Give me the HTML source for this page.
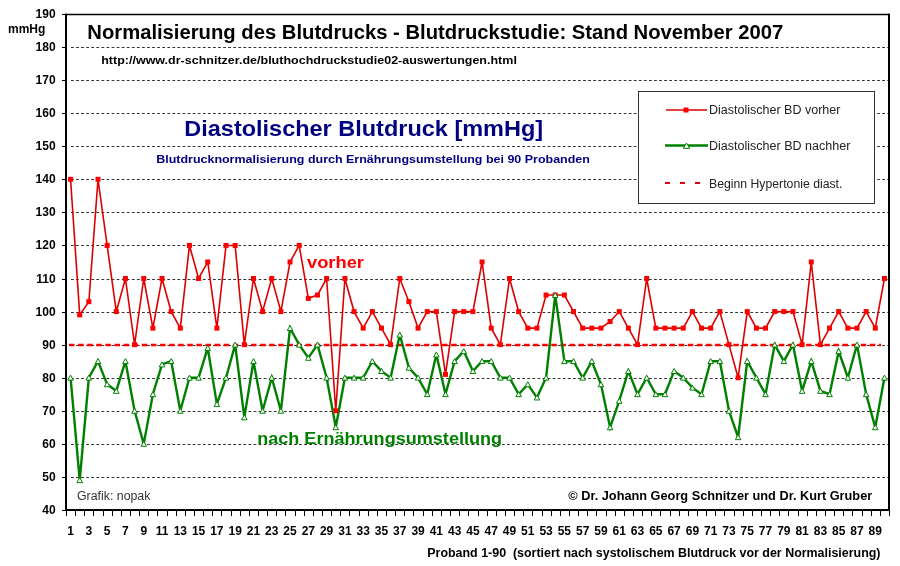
<!DOCTYPE html>
<html><head><meta charset="utf-8"><style>
html,body{margin:0;padding:0;background:#fff;}
body{width:900px;height:566px;overflow:hidden;position:relative;}
svg text{font-family:"Liberation Sans", sans-serif;}
svg{will-change:transform;}
</style></head><body>
<svg width="900" height="566" viewBox="0 0 900 566" style="position:absolute;left:0;top:0">
<line x1="71" y1="477.5" x2="888" y2="477.5" stroke="#333" stroke-width="1" stroke-dasharray="2.8 2.27"/>
<line x1="71" y1="444.5" x2="888" y2="444.5" stroke="#333" stroke-width="1" stroke-dasharray="2.8 2.27"/>
<line x1="71" y1="411.5" x2="888" y2="411.5" stroke="#333" stroke-width="1" stroke-dasharray="2.8 2.27"/>
<line x1="71" y1="378.5" x2="888" y2="378.5" stroke="#333" stroke-width="1" stroke-dasharray="2.8 2.27"/>
<line x1="71" y1="345.5" x2="888" y2="345.5" stroke="#333" stroke-width="1" stroke-dasharray="2.8 2.27"/>
<line x1="71" y1="312.5" x2="888" y2="312.5" stroke="#333" stroke-width="1" stroke-dasharray="2.8 2.27"/>
<line x1="71" y1="279.5" x2="888" y2="279.5" stroke="#333" stroke-width="1" stroke-dasharray="2.8 2.27"/>
<line x1="71" y1="245.5" x2="888" y2="245.5" stroke="#333" stroke-width="1" stroke-dasharray="2.8 2.27"/>
<line x1="71" y1="212.5" x2="888" y2="212.5" stroke="#333" stroke-width="1" stroke-dasharray="2.8 2.27"/>
<line x1="71" y1="179.5" x2="888" y2="179.5" stroke="#333" stroke-width="1" stroke-dasharray="2.8 2.27"/>
<line x1="71" y1="146.5" x2="888" y2="146.5" stroke="#333" stroke-width="1" stroke-dasharray="2.8 2.27"/>
<line x1="71" y1="113.5" x2="888" y2="113.5" stroke="#333" stroke-width="1" stroke-dasharray="2.8 2.27"/>
<line x1="71" y1="80.5" x2="888" y2="80.5" stroke="#333" stroke-width="1" stroke-dasharray="2.8 2.27"/>
<line x1="71" y1="47.5" x2="888" y2="47.5" stroke="#333" stroke-width="1" stroke-dasharray="2.8 2.27"/>
<line x1="69" y1="345.1" x2="881" y2="345.1" stroke="#f00" stroke-width="2.5" stroke-dasharray="5.5 3.6"/>
<line x1="65" y1="14.5" x2="890" y2="14.5" stroke="#000" stroke-width="1.6"/>
<line x1="65" y1="510" x2="890" y2="510" stroke="#000" stroke-width="2"/>
<line x1="66" y1="13.7" x2="66" y2="511" stroke="#000" stroke-width="2"/>
<line x1="889" y1="13.7" x2="889" y2="511" stroke="#000" stroke-width="2"/>
<line x1="62" y1="510.5" x2="66" y2="510.5" stroke="#000" stroke-width="1"/>
<line x1="62" y1="477.5" x2="66" y2="477.5" stroke="#000" stroke-width="1"/>
<line x1="62" y1="444.5" x2="66" y2="444.5" stroke="#000" stroke-width="1"/>
<line x1="62" y1="411.5" x2="66" y2="411.5" stroke="#000" stroke-width="1"/>
<line x1="62" y1="378.5" x2="66" y2="378.5" stroke="#000" stroke-width="1"/>
<line x1="62" y1="345.5" x2="66" y2="345.5" stroke="#000" stroke-width="1"/>
<line x1="62" y1="312.5" x2="66" y2="312.5" stroke="#000" stroke-width="1"/>
<line x1="62" y1="279.5" x2="66" y2="279.5" stroke="#000" stroke-width="1"/>
<line x1="62" y1="245.5" x2="66" y2="245.5" stroke="#000" stroke-width="1"/>
<line x1="62" y1="212.5" x2="66" y2="212.5" stroke="#000" stroke-width="1"/>
<line x1="62" y1="179.5" x2="66" y2="179.5" stroke="#000" stroke-width="1"/>
<line x1="62" y1="146.5" x2="66" y2="146.5" stroke="#000" stroke-width="1"/>
<line x1="62" y1="113.5" x2="66" y2="113.5" stroke="#000" stroke-width="1"/>
<line x1="62" y1="80.5" x2="66" y2="80.5" stroke="#000" stroke-width="1"/>
<line x1="62" y1="47.5" x2="66" y2="47.5" stroke="#000" stroke-width="1"/>
<line x1="62" y1="14.5" x2="66" y2="14.5" stroke="#000" stroke-width="1"/>
<line x1="66.5" y1="511" x2="66.5" y2="516" stroke="#000" stroke-width="1"/>
<line x1="75.5" y1="511" x2="75.5" y2="516" stroke="#000" stroke-width="1"/>
<line x1="84.5" y1="511" x2="84.5" y2="516" stroke="#000" stroke-width="1"/>
<line x1="93.5" y1="511" x2="93.5" y2="516" stroke="#000" stroke-width="1"/>
<line x1="103.5" y1="511" x2="103.5" y2="516" stroke="#000" stroke-width="1"/>
<line x1="112.5" y1="511" x2="112.5" y2="516" stroke="#000" stroke-width="1"/>
<line x1="121.5" y1="511" x2="121.5" y2="516" stroke="#000" stroke-width="1"/>
<line x1="130.5" y1="511" x2="130.5" y2="516" stroke="#000" stroke-width="1"/>
<line x1="139.5" y1="511" x2="139.5" y2="516" stroke="#000" stroke-width="1"/>
<line x1="148.5" y1="511" x2="148.5" y2="516" stroke="#000" stroke-width="1"/>
<line x1="157.5" y1="511" x2="157.5" y2="516" stroke="#000" stroke-width="1"/>
<line x1="167.5" y1="511" x2="167.5" y2="516" stroke="#000" stroke-width="1"/>
<line x1="176.5" y1="511" x2="176.5" y2="516" stroke="#000" stroke-width="1"/>
<line x1="185.5" y1="511" x2="185.5" y2="516" stroke="#000" stroke-width="1"/>
<line x1="194.5" y1="511" x2="194.5" y2="516" stroke="#000" stroke-width="1"/>
<line x1="203.5" y1="511" x2="203.5" y2="516" stroke="#000" stroke-width="1"/>
<line x1="212.5" y1="511" x2="212.5" y2="516" stroke="#000" stroke-width="1"/>
<line x1="221.5" y1="511" x2="221.5" y2="516" stroke="#000" stroke-width="1"/>
<line x1="231.5" y1="511" x2="231.5" y2="516" stroke="#000" stroke-width="1"/>
<line x1="240.5" y1="511" x2="240.5" y2="516" stroke="#000" stroke-width="1"/>
<line x1="249.5" y1="511" x2="249.5" y2="516" stroke="#000" stroke-width="1"/>
<line x1="258.5" y1="511" x2="258.5" y2="516" stroke="#000" stroke-width="1"/>
<line x1="267.5" y1="511" x2="267.5" y2="516" stroke="#000" stroke-width="1"/>
<line x1="276.5" y1="511" x2="276.5" y2="516" stroke="#000" stroke-width="1"/>
<line x1="285.5" y1="511" x2="285.5" y2="516" stroke="#000" stroke-width="1"/>
<line x1="295.5" y1="511" x2="295.5" y2="516" stroke="#000" stroke-width="1"/>
<line x1="304.5" y1="511" x2="304.5" y2="516" stroke="#000" stroke-width="1"/>
<line x1="313.5" y1="511" x2="313.5" y2="516" stroke="#000" stroke-width="1"/>
<line x1="322.5" y1="511" x2="322.5" y2="516" stroke="#000" stroke-width="1"/>
<line x1="331.5" y1="511" x2="331.5" y2="516" stroke="#000" stroke-width="1"/>
<line x1="340.5" y1="511" x2="340.5" y2="516" stroke="#000" stroke-width="1"/>
<line x1="349.5" y1="511" x2="349.5" y2="516" stroke="#000" stroke-width="1"/>
<line x1="359.5" y1="511" x2="359.5" y2="516" stroke="#000" stroke-width="1"/>
<line x1="368.5" y1="511" x2="368.5" y2="516" stroke="#000" stroke-width="1"/>
<line x1="377.5" y1="511" x2="377.5" y2="516" stroke="#000" stroke-width="1"/>
<line x1="386.5" y1="511" x2="386.5" y2="516" stroke="#000" stroke-width="1"/>
<line x1="395.5" y1="511" x2="395.5" y2="516" stroke="#000" stroke-width="1"/>
<line x1="404.5" y1="511" x2="404.5" y2="516" stroke="#000" stroke-width="1"/>
<line x1="413.5" y1="511" x2="413.5" y2="516" stroke="#000" stroke-width="1"/>
<line x1="423.5" y1="511" x2="423.5" y2="516" stroke="#000" stroke-width="1"/>
<line x1="432.5" y1="511" x2="432.5" y2="516" stroke="#000" stroke-width="1"/>
<line x1="441.5" y1="511" x2="441.5" y2="516" stroke="#000" stroke-width="1"/>
<line x1="450.5" y1="511" x2="450.5" y2="516" stroke="#000" stroke-width="1"/>
<line x1="459.5" y1="511" x2="459.5" y2="516" stroke="#000" stroke-width="1"/>
<line x1="468.5" y1="511" x2="468.5" y2="516" stroke="#000" stroke-width="1"/>
<line x1="478.5" y1="511" x2="478.5" y2="516" stroke="#000" stroke-width="1"/>
<line x1="487.5" y1="511" x2="487.5" y2="516" stroke="#000" stroke-width="1"/>
<line x1="496.5" y1="511" x2="496.5" y2="516" stroke="#000" stroke-width="1"/>
<line x1="505.5" y1="511" x2="505.5" y2="516" stroke="#000" stroke-width="1"/>
<line x1="514.5" y1="511" x2="514.5" y2="516" stroke="#000" stroke-width="1"/>
<line x1="523.5" y1="511" x2="523.5" y2="516" stroke="#000" stroke-width="1"/>
<line x1="532.5" y1="511" x2="532.5" y2="516" stroke="#000" stroke-width="1"/>
<line x1="542.5" y1="511" x2="542.5" y2="516" stroke="#000" stroke-width="1"/>
<line x1="551.5" y1="511" x2="551.5" y2="516" stroke="#000" stroke-width="1"/>
<line x1="560.5" y1="511" x2="560.5" y2="516" stroke="#000" stroke-width="1"/>
<line x1="569.5" y1="511" x2="569.5" y2="516" stroke="#000" stroke-width="1"/>
<line x1="578.5" y1="511" x2="578.5" y2="516" stroke="#000" stroke-width="1"/>
<line x1="587.5" y1="511" x2="587.5" y2="516" stroke="#000" stroke-width="1"/>
<line x1="596.5" y1="511" x2="596.5" y2="516" stroke="#000" stroke-width="1"/>
<line x1="606.5" y1="511" x2="606.5" y2="516" stroke="#000" stroke-width="1"/>
<line x1="615.5" y1="511" x2="615.5" y2="516" stroke="#000" stroke-width="1"/>
<line x1="624.5" y1="511" x2="624.5" y2="516" stroke="#000" stroke-width="1"/>
<line x1="633.5" y1="511" x2="633.5" y2="516" stroke="#000" stroke-width="1"/>
<line x1="642.5" y1="511" x2="642.5" y2="516" stroke="#000" stroke-width="1"/>
<line x1="651.5" y1="511" x2="651.5" y2="516" stroke="#000" stroke-width="1"/>
<line x1="660.5" y1="511" x2="660.5" y2="516" stroke="#000" stroke-width="1"/>
<line x1="670.5" y1="511" x2="670.5" y2="516" stroke="#000" stroke-width="1"/>
<line x1="679.5" y1="511" x2="679.5" y2="516" stroke="#000" stroke-width="1"/>
<line x1="688.5" y1="511" x2="688.5" y2="516" stroke="#000" stroke-width="1"/>
<line x1="697.5" y1="511" x2="697.5" y2="516" stroke="#000" stroke-width="1"/>
<line x1="706.5" y1="511" x2="706.5" y2="516" stroke="#000" stroke-width="1"/>
<line x1="715.5" y1="511" x2="715.5" y2="516" stroke="#000" stroke-width="1"/>
<line x1="724.5" y1="511" x2="724.5" y2="516" stroke="#000" stroke-width="1"/>
<line x1="734.5" y1="511" x2="734.5" y2="516" stroke="#000" stroke-width="1"/>
<line x1="743.5" y1="511" x2="743.5" y2="516" stroke="#000" stroke-width="1"/>
<line x1="752.5" y1="511" x2="752.5" y2="516" stroke="#000" stroke-width="1"/>
<line x1="761.5" y1="511" x2="761.5" y2="516" stroke="#000" stroke-width="1"/>
<line x1="770.5" y1="511" x2="770.5" y2="516" stroke="#000" stroke-width="1"/>
<line x1="779.5" y1="511" x2="779.5" y2="516" stroke="#000" stroke-width="1"/>
<line x1="788.5" y1="511" x2="788.5" y2="516" stroke="#000" stroke-width="1"/>
<line x1="798.5" y1="511" x2="798.5" y2="516" stroke="#000" stroke-width="1"/>
<line x1="807.5" y1="511" x2="807.5" y2="516" stroke="#000" stroke-width="1"/>
<line x1="816.5" y1="511" x2="816.5" y2="516" stroke="#000" stroke-width="1"/>
<line x1="825.5" y1="511" x2="825.5" y2="516" stroke="#000" stroke-width="1"/>
<line x1="834.5" y1="511" x2="834.5" y2="516" stroke="#000" stroke-width="1"/>
<line x1="843.5" y1="511" x2="843.5" y2="516" stroke="#000" stroke-width="1"/>
<line x1="852.5" y1="511" x2="852.5" y2="516" stroke="#000" stroke-width="1"/>
<line x1="862.5" y1="511" x2="862.5" y2="516" stroke="#000" stroke-width="1"/>
<line x1="871.5" y1="511" x2="871.5" y2="516" stroke="#000" stroke-width="1"/>
<line x1="880.5" y1="511" x2="880.5" y2="516" stroke="#000" stroke-width="1"/>
<line x1="889.5" y1="511" x2="889.5" y2="516" stroke="#000" stroke-width="1"/>
<polyline points="70.57,179.30 79.72,314.89 88.86,301.66 98.01,179.30 107.15,245.44 116.29,311.58 125.44,278.51 134.58,344.65 143.73,278.51 152.87,328.12 162.02,278.51 171.16,311.58 180.31,328.12 189.45,245.44 198.59,278.51 207.74,261.98 216.88,328.12 226.03,245.44 235.17,245.44 244.32,344.65 253.46,278.51 262.61,311.58 271.75,278.51 280.89,311.58 290.04,261.98 299.18,245.44 308.33,298.35 317.47,295.05 326.62,278.51 335.76,410.79 344.91,278.51 354.05,311.58 363.19,328.12 372.34,311.58 381.48,328.12 390.63,344.65 399.77,278.51 408.92,301.66 418.06,328.12 427.21,311.58 436.35,311.58 445.49,374.41 454.64,311.58 463.78,311.58 472.93,311.58 482.07,261.98 491.22,328.12 500.36,344.65 509.51,278.51 518.65,311.58 527.79,328.12 536.94,328.12 546.08,295.05 555.23,295.05 564.37,295.05 573.52,311.58 582.66,328.12 591.81,328.12 600.95,328.12 610.09,321.50 619.24,311.58 628.38,328.12 637.53,344.65 646.67,278.51 655.82,328.12 664.96,328.12 674.11,328.12 683.25,328.12 692.39,311.58 701.54,328.12 710.68,328.12 719.83,311.58 728.97,344.65 738.12,377.72 747.26,311.58 756.41,328.12 765.55,328.12 774.69,311.58 783.84,311.58 792.98,311.58 802.13,344.65 811.27,261.98 820.42,344.65 829.56,328.12 838.71,311.58 847.85,328.12 856.99,328.12 866.14,311.58 875.28,328.12 884.43,278.51" fill="none" stroke="#dd0000" stroke-width="1.6" stroke-linejoin="miter"/>
<polyline points="70.57,377.72 79.72,480.24 88.86,377.72 98.01,361.19 107.15,384.33 116.29,390.95 125.44,361.19 134.58,410.79 143.73,443.86 152.87,394.25 162.02,364.49 171.16,361.19 180.31,410.79 189.45,377.72 198.59,377.72 207.74,347.96 216.88,404.18 226.03,377.72 235.17,344.65 244.32,417.40 253.46,361.19 262.61,410.79 271.75,377.72 280.89,410.79 290.04,328.12 299.18,344.65 308.33,357.88 317.47,344.65 326.62,377.72 335.76,427.32 344.91,377.72 354.05,377.72 363.19,377.72 372.34,361.19 381.48,371.11 390.63,377.72 399.77,334.73 408.92,367.80 418.06,377.72 427.21,394.25 436.35,354.57 445.49,394.25 454.64,361.19 463.78,351.26 472.93,371.11 482.07,361.19 491.22,361.19 500.36,377.72 509.51,377.72 518.65,394.25 527.79,384.33 536.94,397.56 546.08,377.72 555.23,295.05 564.37,361.19 573.52,361.19 582.66,377.72 591.81,361.19 600.95,384.33 610.09,427.32 619.24,400.87 628.38,371.11 637.53,394.25 646.67,377.72 655.82,394.25 664.96,394.25 674.11,371.11 683.25,377.72 692.39,387.64 701.54,394.25 710.68,361.19 719.83,361.19 728.97,410.79 738.12,437.25 747.26,361.19 756.41,377.72 765.55,394.25 774.69,344.65 783.84,361.19 792.98,344.65 802.13,390.95 811.27,361.19 820.42,390.95 829.56,394.25 838.71,351.26 847.85,377.72 856.99,344.65 866.14,394.25 875.28,427.32 884.43,377.72" fill="none" stroke="#008000" stroke-width="2.4" stroke-linejoin="miter"/>
<rect x="68.07" y="176.80" width="5" height="5" fill="#f00"/>
<rect x="77.22" y="312.39" width="5" height="5" fill="#f00"/>
<rect x="86.36" y="299.16" width="5" height="5" fill="#f00"/>
<rect x="95.51" y="176.80" width="5" height="5" fill="#f00"/>
<rect x="104.65" y="242.94" width="5" height="5" fill="#f00"/>
<rect x="113.79" y="309.08" width="5" height="5" fill="#f00"/>
<rect x="122.94" y="276.01" width="5" height="5" fill="#f00"/>
<rect x="132.08" y="342.15" width="5" height="5" fill="#f00"/>
<rect x="141.23" y="276.01" width="5" height="5" fill="#f00"/>
<rect x="150.37" y="325.62" width="5" height="5" fill="#f00"/>
<rect x="159.52" y="276.01" width="5" height="5" fill="#f00"/>
<rect x="168.66" y="309.08" width="5" height="5" fill="#f00"/>
<rect x="177.81" y="325.62" width="5" height="5" fill="#f00"/>
<rect x="186.95" y="242.94" width="5" height="5" fill="#f00"/>
<rect x="196.09" y="276.01" width="5" height="5" fill="#f00"/>
<rect x="205.24" y="259.48" width="5" height="5" fill="#f00"/>
<rect x="214.38" y="325.62" width="5" height="5" fill="#f00"/>
<rect x="223.53" y="242.94" width="5" height="5" fill="#f00"/>
<rect x="232.67" y="242.94" width="5" height="5" fill="#f00"/>
<rect x="241.82" y="342.15" width="5" height="5" fill="#f00"/>
<rect x="250.96" y="276.01" width="5" height="5" fill="#f00"/>
<rect x="260.11" y="309.08" width="5" height="5" fill="#f00"/>
<rect x="269.25" y="276.01" width="5" height="5" fill="#f00"/>
<rect x="278.39" y="309.08" width="5" height="5" fill="#f00"/>
<rect x="287.54" y="259.48" width="5" height="5" fill="#f00"/>
<rect x="296.68" y="242.94" width="5" height="5" fill="#f00"/>
<rect x="305.83" y="295.85" width="5" height="5" fill="#f00"/>
<rect x="314.97" y="292.55" width="5" height="5" fill="#f00"/>
<rect x="324.12" y="276.01" width="5" height="5" fill="#f00"/>
<rect x="333.26" y="408.29" width="5" height="5" fill="#f00"/>
<rect x="342.41" y="276.01" width="5" height="5" fill="#f00"/>
<rect x="351.55" y="309.08" width="5" height="5" fill="#f00"/>
<rect x="360.69" y="325.62" width="5" height="5" fill="#f00"/>
<rect x="369.84" y="309.08" width="5" height="5" fill="#f00"/>
<rect x="378.98" y="325.62" width="5" height="5" fill="#f00"/>
<rect x="388.13" y="342.15" width="5" height="5" fill="#f00"/>
<rect x="397.27" y="276.01" width="5" height="5" fill="#f00"/>
<rect x="406.42" y="299.16" width="5" height="5" fill="#f00"/>
<rect x="415.56" y="325.62" width="5" height="5" fill="#f00"/>
<rect x="424.71" y="309.08" width="5" height="5" fill="#f00"/>
<rect x="433.85" y="309.08" width="5" height="5" fill="#f00"/>
<rect x="442.99" y="371.91" width="5" height="5" fill="#f00"/>
<rect x="452.14" y="309.08" width="5" height="5" fill="#f00"/>
<rect x="461.28" y="309.08" width="5" height="5" fill="#f00"/>
<rect x="470.43" y="309.08" width="5" height="5" fill="#f00"/>
<rect x="479.57" y="259.48" width="5" height="5" fill="#f00"/>
<rect x="488.72" y="325.62" width="5" height="5" fill="#f00"/>
<rect x="497.86" y="342.15" width="5" height="5" fill="#f00"/>
<rect x="507.01" y="276.01" width="5" height="5" fill="#f00"/>
<rect x="516.15" y="309.08" width="5" height="5" fill="#f00"/>
<rect x="525.29" y="325.62" width="5" height="5" fill="#f00"/>
<rect x="534.44" y="325.62" width="5" height="5" fill="#f00"/>
<rect x="543.58" y="292.55" width="5" height="5" fill="#f00"/>
<rect x="552.73" y="292.55" width="5" height="5" fill="#f00"/>
<rect x="561.87" y="292.55" width="5" height="5" fill="#f00"/>
<rect x="571.02" y="309.08" width="5" height="5" fill="#f00"/>
<rect x="580.16" y="325.62" width="5" height="5" fill="#f00"/>
<rect x="589.31" y="325.62" width="5" height="5" fill="#f00"/>
<rect x="598.45" y="325.62" width="5" height="5" fill="#f00"/>
<rect x="607.59" y="319.00" width="5" height="5" fill="#f00"/>
<rect x="616.74" y="309.08" width="5" height="5" fill="#f00"/>
<rect x="625.88" y="325.62" width="5" height="5" fill="#f00"/>
<rect x="635.03" y="342.15" width="5" height="5" fill="#f00"/>
<rect x="644.17" y="276.01" width="5" height="5" fill="#f00"/>
<rect x="653.32" y="325.62" width="5" height="5" fill="#f00"/>
<rect x="662.46" y="325.62" width="5" height="5" fill="#f00"/>
<rect x="671.61" y="325.62" width="5" height="5" fill="#f00"/>
<rect x="680.75" y="325.62" width="5" height="5" fill="#f00"/>
<rect x="689.89" y="309.08" width="5" height="5" fill="#f00"/>
<rect x="699.04" y="325.62" width="5" height="5" fill="#f00"/>
<rect x="708.18" y="325.62" width="5" height="5" fill="#f00"/>
<rect x="717.33" y="309.08" width="5" height="5" fill="#f00"/>
<rect x="726.47" y="342.15" width="5" height="5" fill="#f00"/>
<rect x="735.62" y="375.22" width="5" height="5" fill="#f00"/>
<rect x="744.76" y="309.08" width="5" height="5" fill="#f00"/>
<rect x="753.91" y="325.62" width="5" height="5" fill="#f00"/>
<rect x="763.05" y="325.62" width="5" height="5" fill="#f00"/>
<rect x="772.19" y="309.08" width="5" height="5" fill="#f00"/>
<rect x="781.34" y="309.08" width="5" height="5" fill="#f00"/>
<rect x="790.48" y="309.08" width="5" height="5" fill="#f00"/>
<rect x="799.63" y="342.15" width="5" height="5" fill="#f00"/>
<rect x="808.77" y="259.48" width="5" height="5" fill="#f00"/>
<rect x="817.92" y="342.15" width="5" height="5" fill="#f00"/>
<rect x="827.06" y="325.62" width="5" height="5" fill="#f00"/>
<rect x="836.21" y="309.08" width="5" height="5" fill="#f00"/>
<rect x="845.35" y="325.62" width="5" height="5" fill="#f00"/>
<rect x="854.49" y="325.62" width="5" height="5" fill="#f00"/>
<rect x="863.64" y="309.08" width="5" height="5" fill="#f00"/>
<rect x="872.78" y="325.62" width="5" height="5" fill="#f00"/>
<rect x="881.93" y="276.01" width="5" height="5" fill="#f00"/>
<path d="M70.57,375.12 L73.37,380.12 L67.77,380.12 Z" fill="#fff" stroke="#008000" stroke-width="1"/>
<path d="M79.72,477.64 L82.52,482.64 L76.92,482.64 Z" fill="#fff" stroke="#008000" stroke-width="1"/>
<path d="M88.86,375.12 L91.66,380.12 L86.06,380.12 Z" fill="#fff" stroke="#008000" stroke-width="1"/>
<path d="M98.01,358.58 L100.81,363.58 L95.21,363.58 Z" fill="#fff" stroke="#008000" stroke-width="1"/>
<path d="M107.15,381.73 L109.95,386.73 L104.35,386.73 Z" fill="#fff" stroke="#008000" stroke-width="1"/>
<path d="M116.29,388.35 L119.09,393.35 L113.49,393.35 Z" fill="#fff" stroke="#008000" stroke-width="1"/>
<path d="M125.44,358.58 L128.24,363.58 L122.64,363.58 Z" fill="#fff" stroke="#008000" stroke-width="1"/>
<path d="M134.58,408.19 L137.38,413.19 L131.78,413.19 Z" fill="#fff" stroke="#008000" stroke-width="1"/>
<path d="M143.73,441.26 L146.53,446.26 L140.93,446.26 Z" fill="#fff" stroke="#008000" stroke-width="1"/>
<path d="M152.87,391.65 L155.67,396.65 L150.07,396.65 Z" fill="#fff" stroke="#008000" stroke-width="1"/>
<path d="M162.02,361.89 L164.82,366.89 L159.22,366.89 Z" fill="#fff" stroke="#008000" stroke-width="1"/>
<path d="M171.16,358.58 L173.96,363.58 L168.36,363.58 Z" fill="#fff" stroke="#008000" stroke-width="1"/>
<path d="M180.31,408.19 L183.11,413.19 L177.51,413.19 Z" fill="#fff" stroke="#008000" stroke-width="1"/>
<path d="M189.45,375.12 L192.25,380.12 L186.65,380.12 Z" fill="#fff" stroke="#008000" stroke-width="1"/>
<path d="M198.59,375.12 L201.39,380.12 L195.79,380.12 Z" fill="#fff" stroke="#008000" stroke-width="1"/>
<path d="M207.74,345.36 L210.54,350.36 L204.94,350.36 Z" fill="#fff" stroke="#008000" stroke-width="1"/>
<path d="M216.88,401.58 L219.68,406.58 L214.08,406.58 Z" fill="#fff" stroke="#008000" stroke-width="1"/>
<path d="M226.03,375.12 L228.83,380.12 L223.23,380.12 Z" fill="#fff" stroke="#008000" stroke-width="1"/>
<path d="M235.17,342.05 L237.97,347.05 L232.37,347.05 Z" fill="#fff" stroke="#008000" stroke-width="1"/>
<path d="M244.32,414.80 L247.12,419.80 L241.52,419.80 Z" fill="#fff" stroke="#008000" stroke-width="1"/>
<path d="M253.46,358.58 L256.26,363.58 L250.66,363.58 Z" fill="#fff" stroke="#008000" stroke-width="1"/>
<path d="M262.61,408.19 L265.41,413.19 L259.81,413.19 Z" fill="#fff" stroke="#008000" stroke-width="1"/>
<path d="M271.75,375.12 L274.55,380.12 L268.95,380.12 Z" fill="#fff" stroke="#008000" stroke-width="1"/>
<path d="M280.89,408.19 L283.69,413.19 L278.09,413.19 Z" fill="#fff" stroke="#008000" stroke-width="1"/>
<path d="M290.04,325.51 L292.84,330.51 L287.24,330.51 Z" fill="#fff" stroke="#008000" stroke-width="1"/>
<path d="M299.18,342.05 L301.98,347.05 L296.38,347.05 Z" fill="#fff" stroke="#008000" stroke-width="1"/>
<path d="M308.33,355.28 L311.13,360.28 L305.53,360.28 Z" fill="#fff" stroke="#008000" stroke-width="1"/>
<path d="M317.47,342.05 L320.27,347.05 L314.67,347.05 Z" fill="#fff" stroke="#008000" stroke-width="1"/>
<path d="M326.62,375.12 L329.42,380.12 L323.82,380.12 Z" fill="#fff" stroke="#008000" stroke-width="1"/>
<path d="M335.76,424.72 L338.56,429.72 L332.96,429.72 Z" fill="#fff" stroke="#008000" stroke-width="1"/>
<path d="M344.91,375.12 L347.71,380.12 L342.11,380.12 Z" fill="#fff" stroke="#008000" stroke-width="1"/>
<path d="M354.05,375.12 L356.85,380.12 L351.25,380.12 Z" fill="#fff" stroke="#008000" stroke-width="1"/>
<path d="M363.19,375.12 L365.99,380.12 L360.39,380.12 Z" fill="#fff" stroke="#008000" stroke-width="1"/>
<path d="M372.34,358.58 L375.14,363.58 L369.54,363.58 Z" fill="#fff" stroke="#008000" stroke-width="1"/>
<path d="M381.48,368.51 L384.28,373.51 L378.68,373.51 Z" fill="#fff" stroke="#008000" stroke-width="1"/>
<path d="M390.63,375.12 L393.43,380.12 L387.83,380.12 Z" fill="#fff" stroke="#008000" stroke-width="1"/>
<path d="M399.77,332.13 L402.57,337.13 L396.97,337.13 Z" fill="#fff" stroke="#008000" stroke-width="1"/>
<path d="M408.92,365.20 L411.72,370.20 L406.12,370.20 Z" fill="#fff" stroke="#008000" stroke-width="1"/>
<path d="M418.06,375.12 L420.86,380.12 L415.26,380.12 Z" fill="#fff" stroke="#008000" stroke-width="1"/>
<path d="M427.21,391.65 L430.01,396.65 L424.41,396.65 Z" fill="#fff" stroke="#008000" stroke-width="1"/>
<path d="M436.35,351.97 L439.15,356.97 L433.55,356.97 Z" fill="#fff" stroke="#008000" stroke-width="1"/>
<path d="M445.49,391.65 L448.29,396.65 L442.69,396.65 Z" fill="#fff" stroke="#008000" stroke-width="1"/>
<path d="M454.64,358.58 L457.44,363.58 L451.84,363.58 Z" fill="#fff" stroke="#008000" stroke-width="1"/>
<path d="M463.78,348.66 L466.58,353.66 L460.98,353.66 Z" fill="#fff" stroke="#008000" stroke-width="1"/>
<path d="M472.93,368.51 L475.73,373.51 L470.13,373.51 Z" fill="#fff" stroke="#008000" stroke-width="1"/>
<path d="M482.07,358.58 L484.87,363.58 L479.27,363.58 Z" fill="#fff" stroke="#008000" stroke-width="1"/>
<path d="M491.22,358.58 L494.02,363.58 L488.42,363.58 Z" fill="#fff" stroke="#008000" stroke-width="1"/>
<path d="M500.36,375.12 L503.16,380.12 L497.56,380.12 Z" fill="#fff" stroke="#008000" stroke-width="1"/>
<path d="M509.51,375.12 L512.31,380.12 L506.71,380.12 Z" fill="#fff" stroke="#008000" stroke-width="1"/>
<path d="M518.65,391.65 L521.45,396.65 L515.85,396.65 Z" fill="#fff" stroke="#008000" stroke-width="1"/>
<path d="M527.79,381.73 L530.59,386.73 L524.99,386.73 Z" fill="#fff" stroke="#008000" stroke-width="1"/>
<path d="M536.94,394.96 L539.74,399.96 L534.14,399.96 Z" fill="#fff" stroke="#008000" stroke-width="1"/>
<path d="M546.08,375.12 L548.88,380.12 L543.28,380.12 Z" fill="#fff" stroke="#008000" stroke-width="1"/>
<path d="M555.23,292.44 L558.03,297.44 L552.43,297.44 Z" fill="#fff" stroke="#008000" stroke-width="1"/>
<path d="M564.37,358.58 L567.17,363.58 L561.57,363.58 Z" fill="#fff" stroke="#008000" stroke-width="1"/>
<path d="M573.52,358.58 L576.32,363.58 L570.72,363.58 Z" fill="#fff" stroke="#008000" stroke-width="1"/>
<path d="M582.66,375.12 L585.46,380.12 L579.86,380.12 Z" fill="#fff" stroke="#008000" stroke-width="1"/>
<path d="M591.81,358.58 L594.61,363.58 L589.01,363.58 Z" fill="#fff" stroke="#008000" stroke-width="1"/>
<path d="M600.95,381.73 L603.75,386.73 L598.15,386.73 Z" fill="#fff" stroke="#008000" stroke-width="1"/>
<path d="M610.09,424.72 L612.89,429.72 L607.29,429.72 Z" fill="#fff" stroke="#008000" stroke-width="1"/>
<path d="M619.24,398.27 L622.04,403.27 L616.44,403.27 Z" fill="#fff" stroke="#008000" stroke-width="1"/>
<path d="M628.38,368.51 L631.18,373.51 L625.58,373.51 Z" fill="#fff" stroke="#008000" stroke-width="1"/>
<path d="M637.53,391.65 L640.33,396.65 L634.73,396.65 Z" fill="#fff" stroke="#008000" stroke-width="1"/>
<path d="M646.67,375.12 L649.47,380.12 L643.87,380.12 Z" fill="#fff" stroke="#008000" stroke-width="1"/>
<path d="M655.82,391.65 L658.62,396.65 L653.02,396.65 Z" fill="#fff" stroke="#008000" stroke-width="1"/>
<path d="M664.96,391.65 L667.76,396.65 L662.16,396.65 Z" fill="#fff" stroke="#008000" stroke-width="1"/>
<path d="M674.11,368.51 L676.91,373.51 L671.31,373.51 Z" fill="#fff" stroke="#008000" stroke-width="1"/>
<path d="M683.25,375.12 L686.05,380.12 L680.45,380.12 Z" fill="#fff" stroke="#008000" stroke-width="1"/>
<path d="M692.39,385.04 L695.19,390.04 L689.59,390.04 Z" fill="#fff" stroke="#008000" stroke-width="1"/>
<path d="M701.54,391.65 L704.34,396.65 L698.74,396.65 Z" fill="#fff" stroke="#008000" stroke-width="1"/>
<path d="M710.68,358.58 L713.48,363.58 L707.88,363.58 Z" fill="#fff" stroke="#008000" stroke-width="1"/>
<path d="M719.83,358.58 L722.63,363.58 L717.03,363.58 Z" fill="#fff" stroke="#008000" stroke-width="1"/>
<path d="M728.97,408.19 L731.77,413.19 L726.17,413.19 Z" fill="#fff" stroke="#008000" stroke-width="1"/>
<path d="M738.12,434.65 L740.92,439.65 L735.32,439.65 Z" fill="#fff" stroke="#008000" stroke-width="1"/>
<path d="M747.26,358.58 L750.06,363.58 L744.46,363.58 Z" fill="#fff" stroke="#008000" stroke-width="1"/>
<path d="M756.41,375.12 L759.21,380.12 L753.61,380.12 Z" fill="#fff" stroke="#008000" stroke-width="1"/>
<path d="M765.55,391.65 L768.35,396.65 L762.75,396.65 Z" fill="#fff" stroke="#008000" stroke-width="1"/>
<path d="M774.69,342.05 L777.49,347.05 L771.89,347.05 Z" fill="#fff" stroke="#008000" stroke-width="1"/>
<path d="M783.84,358.58 L786.64,363.58 L781.04,363.58 Z" fill="#fff" stroke="#008000" stroke-width="1"/>
<path d="M792.98,342.05 L795.78,347.05 L790.18,347.05 Z" fill="#fff" stroke="#008000" stroke-width="1"/>
<path d="M802.13,388.35 L804.93,393.35 L799.33,393.35 Z" fill="#fff" stroke="#008000" stroke-width="1"/>
<path d="M811.27,358.58 L814.07,363.58 L808.47,363.58 Z" fill="#fff" stroke="#008000" stroke-width="1"/>
<path d="M820.42,388.35 L823.22,393.35 L817.62,393.35 Z" fill="#fff" stroke="#008000" stroke-width="1"/>
<path d="M829.56,391.65 L832.36,396.65 L826.76,396.65 Z" fill="#fff" stroke="#008000" stroke-width="1"/>
<path d="M838.71,348.66 L841.51,353.66 L835.91,353.66 Z" fill="#fff" stroke="#008000" stroke-width="1"/>
<path d="M847.85,375.12 L850.65,380.12 L845.05,380.12 Z" fill="#fff" stroke="#008000" stroke-width="1"/>
<path d="M856.99,342.05 L859.79,347.05 L854.19,347.05 Z" fill="#fff" stroke="#008000" stroke-width="1"/>
<path d="M866.14,391.65 L868.94,396.65 L863.34,396.65 Z" fill="#fff" stroke="#008000" stroke-width="1"/>
<path d="M875.28,424.72 L878.08,429.72 L872.48,429.72 Z" fill="#fff" stroke="#008000" stroke-width="1"/>
<path d="M884.43,375.12 L887.23,380.12 L881.63,380.12 Z" fill="#fff" stroke="#008000" stroke-width="1"/>
<rect x="638.5" y="91.5" width="236" height="112" fill="#fff" stroke="#333" stroke-width="1"/><line x1="666" y1="110" x2="707" y2="110" stroke="#dd0000" stroke-width="1.7"/><rect x="683.5" y="107.5" width="5" height="5" fill="#f00"/><line x1="665" y1="145.5" x2="708" y2="145.5" stroke="#008000" stroke-width="2.7"/><path d="M686.5,143 L689.7,148.4 L683.3,148.4 Z" fill="#fff" stroke="#008000" stroke-width="1"/><line x1="665" y1="183" x2="705" y2="183" stroke="#e00010" stroke-width="2" stroke-dasharray="5 10"/><text x="709" y="113.7" font-size="12" fill="#222" textLength="131.4" lengthAdjust="spacingAndGlyphs">Diastolischer BD vorher</text><text x="709" y="149.7" font-size="12" fill="#222" textLength="141.4" lengthAdjust="spacingAndGlyphs">Diastolischer BD nachher</text><text x="709" y="187.7" font-size="12" fill="#222" textLength="133.4" lengthAdjust="spacingAndGlyphs">Beginn Hypertonie diast.</text>
<text x="55.6" y="513.9" font-size="12" font-weight="bold" fill="#000" text-anchor="end">40</text><text x="55.6" y="480.9" font-size="12" font-weight="bold" fill="#000" text-anchor="end">50</text><text x="55.6" y="447.9" font-size="12" font-weight="bold" fill="#000" text-anchor="end">60</text><text x="55.6" y="414.9" font-size="12" font-weight="bold" fill="#000" text-anchor="end">70</text><text x="55.6" y="381.9" font-size="12" font-weight="bold" fill="#000" text-anchor="end">80</text><text x="55.6" y="348.9" font-size="12" font-weight="bold" fill="#000" text-anchor="end">90</text><text x="55.6" y="315.9" font-size="12" font-weight="bold" fill="#000" text-anchor="end">100</text><text x="55.6" y="282.9" font-size="12" font-weight="bold" fill="#000" text-anchor="end">110</text><text x="55.6" y="248.9" font-size="12" font-weight="bold" fill="#000" text-anchor="end">120</text><text x="55.6" y="215.9" font-size="12" font-weight="bold" fill="#000" text-anchor="end">130</text><text x="55.6" y="182.9" font-size="12" font-weight="bold" fill="#000" text-anchor="end">140</text><text x="55.6" y="149.9" font-size="12" font-weight="bold" fill="#000" text-anchor="end">150</text><text x="55.6" y="116.9" font-size="12" font-weight="bold" fill="#000" text-anchor="end">160</text><text x="55.6" y="83.9" font-size="12" font-weight="bold" fill="#000" text-anchor="end">170</text><text x="55.6" y="50.9" font-size="12" font-weight="bold" fill="#000" text-anchor="end">180</text><text x="55.6" y="17.9" font-size="12" font-weight="bold" fill="#000" text-anchor="end">190</text><text x="8" y="32.5" font-size="12" font-weight="bold" fill="#000" text-anchor="start">mmHg</text><text x="87.3" y="38.8" font-size="20" font-weight="bold" fill="#000" text-anchor="start" textLength="695.9" lengthAdjust="spacingAndGlyphs">Normalisierung des Blutdrucks - Blutdruckstudie: Stand November 2007</text><text x="101.2" y="64.4" font-size="11.8" font-weight="bold" fill="#000" text-anchor="start" textLength="415.7" lengthAdjust="spacingAndGlyphs">http://www.dr-schnitzer.de/bluthochdruckstudie02-auswertungen.html</text><text x="184.3" y="136.4" font-size="22.5" font-weight="bold" fill="#000080" text-anchor="start" textLength="358.8" lengthAdjust="spacingAndGlyphs">Diastolischer Blutdruck [mmHg]</text><text x="156.2" y="163" font-size="11.5" font-weight="bold" fill="#000080" text-anchor="start" textLength="433.7" lengthAdjust="spacingAndGlyphs">Blutdrucknormalisierung durch Ernährungsumstellung bei 90 Probanden</text><text x="307" y="268.3" font-size="17" font-weight="bold" fill="#f00" text-anchor="start" textLength="57" lengthAdjust="spacingAndGlyphs">vorher</text><text x="257.2" y="444" font-size="17" font-weight="bold" fill="#008000" text-anchor="start" textLength="244.9" lengthAdjust="spacingAndGlyphs">nach Ernährungsumstellung</text><text x="77" y="500.3" font-size="12" font-weight="normal" fill="#333" text-anchor="start" textLength="73.4" lengthAdjust="spacingAndGlyphs">Grafik: nopak</text><text x="568.3" y="500.1" font-size="12" font-weight="bold" fill="#000" text-anchor="start" textLength="303.9" lengthAdjust="spacingAndGlyphs">© Dr. Johann Georg Schnitzer und Dr. Kurt Gruber</text><text x="70.57" y="534.8" font-size="12" font-weight="bold" fill="#000" text-anchor="middle">1</text><text x="88.86" y="534.8" font-size="12" font-weight="bold" fill="#000" text-anchor="middle">3</text><text x="107.15" y="534.8" font-size="12" font-weight="bold" fill="#000" text-anchor="middle">5</text><text x="125.44" y="534.8" font-size="12" font-weight="bold" fill="#000" text-anchor="middle">7</text><text x="143.73" y="534.8" font-size="12" font-weight="bold" fill="#000" text-anchor="middle">9</text><text x="162.02" y="534.8" font-size="12" font-weight="bold" fill="#000" text-anchor="middle">11</text><text x="180.31" y="534.8" font-size="12" font-weight="bold" fill="#000" text-anchor="middle">13</text><text x="198.59" y="534.8" font-size="12" font-weight="bold" fill="#000" text-anchor="middle">15</text><text x="216.88" y="534.8" font-size="12" font-weight="bold" fill="#000" text-anchor="middle">17</text><text x="235.17" y="534.8" font-size="12" font-weight="bold" fill="#000" text-anchor="middle">19</text><text x="253.46" y="534.8" font-size="12" font-weight="bold" fill="#000" text-anchor="middle">21</text><text x="271.75" y="534.8" font-size="12" font-weight="bold" fill="#000" text-anchor="middle">23</text><text x="290.04" y="534.8" font-size="12" font-weight="bold" fill="#000" text-anchor="middle">25</text><text x="308.33" y="534.8" font-size="12" font-weight="bold" fill="#000" text-anchor="middle">27</text><text x="326.62" y="534.8" font-size="12" font-weight="bold" fill="#000" text-anchor="middle">29</text><text x="344.91" y="534.8" font-size="12" font-weight="bold" fill="#000" text-anchor="middle">31</text><text x="363.19" y="534.8" font-size="12" font-weight="bold" fill="#000" text-anchor="middle">33</text><text x="381.48" y="534.8" font-size="12" font-weight="bold" fill="#000" text-anchor="middle">35</text><text x="399.77" y="534.8" font-size="12" font-weight="bold" fill="#000" text-anchor="middle">37</text><text x="418.06" y="534.8" font-size="12" font-weight="bold" fill="#000" text-anchor="middle">39</text><text x="436.35" y="534.8" font-size="12" font-weight="bold" fill="#000" text-anchor="middle">41</text><text x="454.64" y="534.8" font-size="12" font-weight="bold" fill="#000" text-anchor="middle">43</text><text x="472.93" y="534.8" font-size="12" font-weight="bold" fill="#000" text-anchor="middle">45</text><text x="491.22" y="534.8" font-size="12" font-weight="bold" fill="#000" text-anchor="middle">47</text><text x="509.51" y="534.8" font-size="12" font-weight="bold" fill="#000" text-anchor="middle">49</text><text x="527.79" y="534.8" font-size="12" font-weight="bold" fill="#000" text-anchor="middle">51</text><text x="546.08" y="534.8" font-size="12" font-weight="bold" fill="#000" text-anchor="middle">53</text><text x="564.37" y="534.8" font-size="12" font-weight="bold" fill="#000" text-anchor="middle">55</text><text x="582.66" y="534.8" font-size="12" font-weight="bold" fill="#000" text-anchor="middle">57</text><text x="600.95" y="534.8" font-size="12" font-weight="bold" fill="#000" text-anchor="middle">59</text><text x="619.24" y="534.8" font-size="12" font-weight="bold" fill="#000" text-anchor="middle">61</text><text x="637.53" y="534.8" font-size="12" font-weight="bold" fill="#000" text-anchor="middle">63</text><text x="655.82" y="534.8" font-size="12" font-weight="bold" fill="#000" text-anchor="middle">65</text><text x="674.11" y="534.8" font-size="12" font-weight="bold" fill="#000" text-anchor="middle">67</text><text x="692.39" y="534.8" font-size="12" font-weight="bold" fill="#000" text-anchor="middle">69</text><text x="710.68" y="534.8" font-size="12" font-weight="bold" fill="#000" text-anchor="middle">71</text><text x="728.97" y="534.8" font-size="12" font-weight="bold" fill="#000" text-anchor="middle">73</text><text x="747.26" y="534.8" font-size="12" font-weight="bold" fill="#000" text-anchor="middle">75</text><text x="765.55" y="534.8" font-size="12" font-weight="bold" fill="#000" text-anchor="middle">77</text><text x="783.84" y="534.8" font-size="12" font-weight="bold" fill="#000" text-anchor="middle">79</text><text x="802.13" y="534.8" font-size="12" font-weight="bold" fill="#000" text-anchor="middle">81</text><text x="820.42" y="534.8" font-size="12" font-weight="bold" fill="#000" text-anchor="middle">83</text><text x="838.71" y="534.8" font-size="12" font-weight="bold" fill="#000" text-anchor="middle">85</text><text x="856.99" y="534.8" font-size="12" font-weight="bold" fill="#000" text-anchor="middle">87</text><text x="875.28" y="534.8" font-size="12" font-weight="bold" fill="#000" text-anchor="middle">89</text><text x="427.3" y="556.7" font-size="12" font-weight="bold" fill="#000" text-anchor="start" textLength="453.2" lengthAdjust="spacingAndGlyphs">Proband 1-90 &#160;(sortiert nach systolischem Blutdruck vor der Normalisierung)</text>
</svg>
</body></html>
